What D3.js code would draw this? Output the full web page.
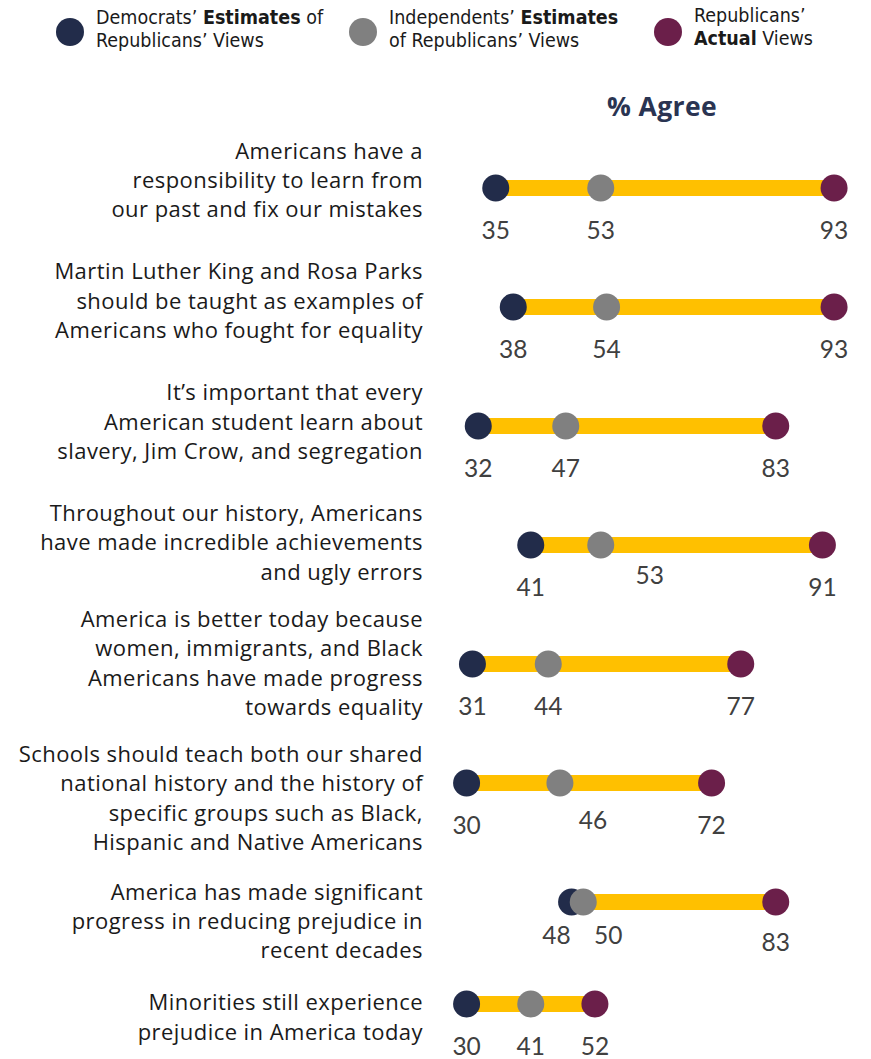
<!DOCTYPE html>
<html>
<head>
<meta charset="utf-8">
<script src="https://cdn.jsdelivr.net/npm/d3@7"></script>
<style>
  html, body { margin: 0; padding: 0; background: #ffffff; }
  svg { display: block; }
</style>
</head>
<body>
<svg id="chart" width="871" height="1059"></svg>
<script>
// ---------- DATA ----------
const statements = [
  ["Americans have a", "responsibility to learn from", "our past and fix our mistakes"],
  ["Martin Luther King and Rosa Parks", "should be taught as examples of", "Americans who fought for equality"],
  ["It\u2019s important that every", "American student learn about", "slavery, Jim Crow, and segregation"],
  ["Throughout our history, Americans", "have made incredible achievements", "and ugly errors"],
  ["America is better today because", "women, immigrants, and Black", "Americans have made progress", "towards equality"],
  ["Schools should teach both our shared", "national history and the history of", "specific groups such as Black,", "Hispanic and Native Americans"],
  ["America has made significant", "progress in reducing prejudice in", "recent decades"],
  ["Minorities still experience", "prejudice in America today"]
];
const democratsEstimate   = [35, 38, 32, 41, 31, 30, 48, 30];
const independentsEstimate = [53, 54, 47, 53, 44, 46, 50, 41];
const republicansActual   = [93, 93, 83, 91, 77, 72, 83, 52];

const seriesNames = ["dem", "ind", "rep"];
const legendLabels = [
  [[{t:"Democrats\u2019 "}, {t:"Estimates", b:true}, {t:" of"}], [{t:"Republicans\u2019 Views"}]],
  [[{t:"Independents\u2019 "}, {t:"Estimates", b:true}], [{t:"of Republicans\u2019 Views"}]],
  [[{t:"Republicans\u2019"}], [{t:"Actual", b:true}, {t:" Views"}]]
];

// ---------- STYLE / LAYOUT ----------
const colors = { dem: "#222c4a", ind: "#808080", rep: "#6b1f4a", bar: "#ffc000" };
// manual label nudges for readability (row-series -> [dx, dy])
const labelNudge = { "3-ind": [49, -12], "5-ind": [33, -5], "6-dem": [-15, -9], "6-ind": [25, -9], "6-rep": [0, -2] };

const svg = d3.select("#chart");
const x = d3.scaleLinear().domain([0, 100]).range([291.6, 874.9]);
const idx = d3.range(statements.length);
const y = d3.scaleLinear().domain([0, 6, 7]).range([188, 902, 1004]);
const labelY = d3.scaleLinear().domain([0, 4, 5, 6, 7]).range([181, 664, 799, 922, 1018]);

const rows = idx.map(i => ({
  i,
  lines: statements[i],
  vals: { dem: democratsEstimate[i], ind: independentsEstimate[i], rep: republicansActual[i] }
}));

// ---------- LEGEND ----------
const legendX = [70, 363, 668];
const legendLineY = [[24, 47], [24, 47], [22, 45]];
const legend = svg.append("g").attr("class", "legend");
seriesNames.forEach((s, k) => {
  const g = legend.append("g").attr("transform", `translate(${legendX[k]},0)`);
  g.append("circle").attr("cx", 0).attr("cy", 32).attr("r", 14).attr("fill", colors[s]);
  legendLabels[k].forEach((line, li) => {
    const t = g.append("text")
      .attr("x", 26).attr("y", legendLineY[k][li])
      .attr("font-family", "'Liberation Sans Narrow', 'DejaVu Sans Condensed', sans-serif")
      .attr("font-size", 19.5).attr("fill", "#1a1a1a");
    line.forEach(part => {
      t.append("tspan").text(part.t).attr("font-weight", part.b ? "bold" : "normal");
    });
  });
});

// ---------- HEADER ----------
svg.append("text")
  .attr("x", 662).attr("y", 116)
  .attr("text-anchor", "middle")
  .attr("font-family", "'Open Sans', Lato, sans-serif")
  .attr("font-weight", 700)
  .attr("font-size", 26.5)
  .attr("letter-spacing", 0.4)
  .attr("fill", "#2a3452")
  .text("% Agree");

// ---------- ROW LABELS ----------
const lineH = 29.3;
const labels = svg.append("g").attr("class", "row-labels");
rows.forEach(r => {
  const n = r.lines.length;
  const top = labelY(r.i) - (n - 1) * lineH / 2;
  const t = labels.append("text")
    .attr("text-anchor", "end")
    .attr("font-family", "'Open Sans', 'Noto Sans', sans-serif")
    .attr("font-size", 22)
    .attr("letter-spacing", 0.45)
    .attr("fill", "#1a1a1a");
  r.lines.forEach((ln, k) => {
    t.append("tspan").attr("x", 423).attr("y", top + k * lineH + 7).text(ln);
  });
});

// ---------- BARS ----------
const plot = svg.append("g").attr("class", "plot");
plot.selectAll("line.bar").data(rows).join("line")
  .attr("class", "bar")
  .attr("x1", d => x(d3.min(seriesNames, s => d.vals[s])))
  .attr("x2", d => x(d3.max(seriesNames, s => d.vals[s])))
  .attr("y1", d => y(d.i)).attr("y2", d => y(d.i))
  .attr("stroke", colors.bar).attr("stroke-width", 16);

// ---------- DOTS ----------
seriesNames.forEach(s => {
  plot.selectAll(`circle.${s}`).data(rows).join("circle")
    .attr("class", s)
    .attr("cx", d => x(d.vals[s]))
    .attr("cy", d => y(d.i))
    .attr("r", 13.5)
    .attr("fill", colors[s]);
});

// ---------- VALUE LABELS ----------
seriesNames.forEach(s => {
  plot.selectAll(`text.v-${s}`).data(rows).join("text")
    .attr("class", `v-${s}`)
    .attr("x", d => x(d.vals[s]) + ((labelNudge[`${d.i}-${s}`] || [0, 0])[0]))
    .attr("y", d => y(d.i) + 51 + ((labelNudge[`${d.i}-${s}`] || [0, 0])[1]))
    .attr("text-anchor", "middle")
    .attr("font-family", "Lato, 'Noto Sans', sans-serif")
    .attr("font-size", 24.5)
    .attr("fill", "#404040")
    .text(d => d.vals[s]);
});
</script>
</body>
</html>
